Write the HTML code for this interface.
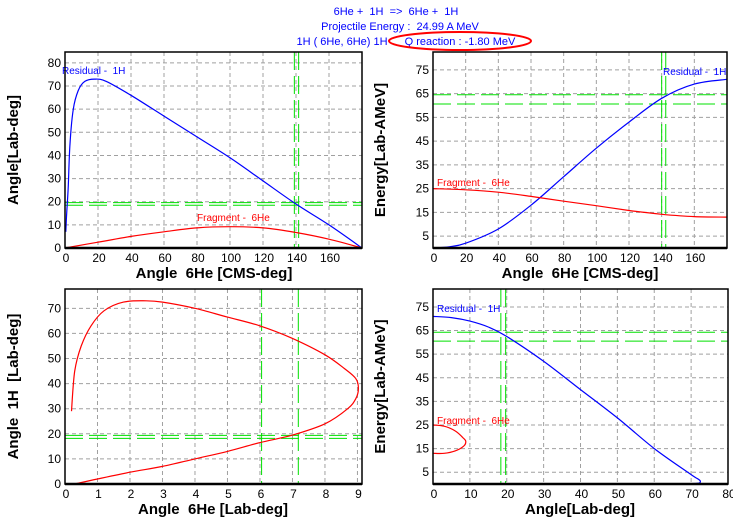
<!DOCTYPE html>
<html><head><meta charset="utf-8"><style>
body{margin:0;background:#fff;width:733px;height:520px;overflow:hidden}
svg{position:absolute;left:0;top:0}
text{font-family:"Liberation Sans",sans-serif;white-space:pre}
</style></head><body>
<svg id="s" width="733" height="520">
<g fill="#0000ff" font-size="11" text-anchor="middle">
<text x="396" y="15">6He +  1H  =&gt;  6He +  1H</text>
<text x="400" y="30">Projectile Energy :  24.99 A MeV</text>
<text x="342" y="45">1H ( 6He, 6He) 1H</text>
<text x="460" y="45">Q reaction : -1.80 MeV</text>
<ellipse cx="460" cy="41" rx="71" ry="9" fill="none" stroke="#ff0000" stroke-width="2"/>
</g>
</svg>
<script>
// Panel 1: lab angle vs CMS angle
const p1Blue=[[0.5,7],[1,15],[2,27],[3,45],[5,60],[8,68],[12,72],[18,73],[25,72],[40,66],[60,57],[80,48],[100,39],[120,29],[140,19],[160,10],[180,0]];
const p1Red=[[0,0],[20,2.5],[40,5],[60,7],[80,8.7],[100,9.2],[120,8.7],[140,6.7],[160,3.8],[180,0]];
// Panel 2: energy vs CMS angle
const p2Blue=[[0,0],[10,0.5],[20,2],[40,8],[60,18],[80,30],[100,42],[120,53],[140,63],[160,69],[180,71]];
const p2Red=[[0,25],[20,24.5],[40,23.5],[60,21.7],[80,19.7],[100,17.8],[120,15.8],[140,14.2],[160,13.2],[180,13]];
// Panel 3: 1H lab angle vs 6He lab angle
const p3Red=[[0.2,29],[0.3,45],[0.5,55],[0.8,63],[1.2,69],[1.8,72.5],[2.5,73],[3,72.5],[4,70],[5,66.5],[6,63],[7,58],[8,51.5],[8.6,46],[8.95,42],[9.03,38],[8.95,34],[8.7,30],[8,24],[7,19.5],[6,16.5],[5,13],[4,10],[3,7],[2,4.7],[1,2],[0.3,0]];
// Panel 4: energy vs lab angle
const p4Blue=[[0,71],[5,70.5],[10,69],[15,66.5],[20,62.5],[30,52],[40,40],[50,28],[60,15],[70,4],[72,2],[72.5,1],[71.5,0.3],[65,0]];
const p4Red=[[0,25],[3,24.5],[6,22.5],[8.2,19.5],[8.9,18],[8.3,16],[6,14],[3,13],[0,13]];
// Ticks
const ticksCMS=[0,20,40,60,80,100,120,140,160];
const ticksAng80=[0,10,20,30,40,50,60,70,80];
const ticksAng70=[0,10,20,30,40,50,60,70];
const ticksE=[5,15,25,35,45,55,65,75];
const ticksLab6=[0,1,2,3,4,5,6,7,8,9];
const ticksLab80=[0,10,20,30,40,50,60,70,80];
// Guide lines
const g1V=[139,141.6], g1H=[19.6,18.5];
const g2V=[140,142.5], g2H=[64.5,60.6];
const g3V=[6.05,7.18], g3H=[19.4,18.2];
const g4V=[18.4,19.7], g4H=[64.3,60.5];

const NS="http://www.w3.org/2000/svg";
const svg=document.getElementById('s');
function mk(t,a,p){const e=document.createElementNS(NS,t);for(const k in a)e.setAttribute(k,a[k]);(p||svg).appendChild(e);return e;}
function smooth(pts){
  let d='M'+pts[0][0].toFixed(1)+','+pts[0][1].toFixed(1);
  for(let i=0;i<pts.length-1;i++){
    const p0=pts[i-1]||pts[i],p1=pts[i],p2=pts[i+1],p3=pts[i+2]||p2;
    const c1=[p1[0]+(p2[0]-p0[0])/6,p1[1]+(p2[1]-p0[1])/6];
    const c2=[p2[0]-(p3[0]-p1[0])/6,p2[1]-(p3[1]-p1[1])/6];
    d+=` C${c1[0].toFixed(1)},${c1[1].toFixed(1)} ${c2[0].toFixed(1)},${c2[1].toFixed(1)} ${p2[0].toFixed(1)},${p2[1].toFixed(1)}`;
  }
  return d;
}

function panel(name,box,xr,yr,xt,yt,xtitle,ytitle,series,gv,gh,labels,xtitleX,ytitleX){
  const g=mk('g',{});
  
  
  const [L,T,R,B]=box;
  const sx=v=>L+(v-xr[0])/(xr[1]-xr[0])*(R-L);
  const sy=v=>B-(v-yr[0])/(yr[1]-yr[0])*(B-T);
  xt.forEach(v=>{const x=sx(v);
    if(v>xr[0]){const l=mk('line',{x1:x,x2:x,y1:T,y2:B,stroke:'#a0a0a0','stroke-dasharray':'4,3'},g);
    }
    const t=mk('text',{x:x+1,y:B+14,'font-size':'12','text-anchor':'middle'},g);t.textContent=v;
    });
  yt.forEach(v=>{const y=sy(v);
    if(v>yr[0]){const l=mk('line',{x1:L,x2:R,y1:y,y2:y,stroke:'#a0a0a0','stroke-dasharray':'4,3'},g);
    }
    const t=mk('text',{x:L-4,y:y+4,'font-size':'12','text-anchor':'end'},g);t.textContent=v;
    });
  gv.forEach(v=>{const l=mk('line',{x1:sx(v),x2:sx(v),y1:T,y2:B,stroke:'#00e000','stroke-dasharray':'18,6'},g);
    });
  gh.forEach(v=>{const l=mk('line',{x1:L,x2:R,y1:sy(v),y2:sy(v),stroke:'#00e000','stroke-dasharray':'18,6'},g);
    });
  series.forEach(s=>{const p=mk('path',{d:smooth(s.d.map(q=>[sx(q[0]),sy(q[1])])),fill:'none',stroke:s.c,'stroke-width':'1.2'},g);
    });
  labels.forEach(l=>{const t=mk('text',{x:l[0],y:l[1],fill:l[2],'font-size':'10'},g);t.textContent=l[3];
    });
  const r=mk('rect',{x:L,y:T,width:R-L,height:B-T,fill:'none',stroke:'#000','stroke-width':'1.5'},g);
  
  const bl=mk('line',{x1:L,x2:R,y1:B,y2:B,stroke:'#000','stroke-width':'2.5'},g);
  
  const xtl=mk('text',{x:xtitleX,y:B+30,'font-size':'15','font-weight':'bold','text-anchor':'middle'},g);xtl.textContent=xtitle;
  
  const cy=(T+B)/2;
  const ytl=mk('text',{x:ytitleX,y:cy,'font-size':'15','font-weight':'bold','text-anchor':'middle',transform:`rotate(-90 ${ytitleX} ${cy})`},g);ytl.textContent=ytitle;
  
}
panel('panel-angle-vs-cms',[65,52,362,248],[0,180],[0,84.7],ticksCMS,ticksAng80,'Angle  6He [CMS-deg]','Angle[Lab-deg]',
 [{d:p1Blue,c:'#0000ff',n:'residual-1h-line'},{d:p1Red,c:'#ff0000',n:'fragment-6he-line'}],g1V,g1H,
 [[62,74,'#0000ff','Residual -  1H'],[197,221,'#ff0000','Fragment -  6He']],214,18);
panel('panel-energy-vs-cms',[433,52,727,248],[0,180],[0,82.5],ticksCMS,ticksE,'Angle  6He [CMS-deg]','Energy[Lab-AMeV]',
 [{d:p2Blue,c:'#0000ff',n:'residual-1h-line'},{d:p2Red,c:'#ff0000',n:'fragment-6he-line'}],g2V,g2H,
 [[663,75,'#0000ff','Residual -  1H'],[437,186,'#ff0000','Fragment -  6He']],580,385);
panel('panel-angle-vs-lab',[65,289,362,484],[0,9.14],[0,77.7],ticksLab6,ticksAng70,'Angle  6He [Lab-deg]','Angle  1H  [Lab-deg]',
 [{d:p3Red,c:'#ff0000',n:'kinematic-locus-line'}],g3V,g3H,[],213,18);
panel('panel-energy-vs-lab',[433,289,728,484],[0,80],[0,82.6],ticksLab80,ticksE,'Angle[Lab-deg]','Energy[Lab-AMeV]',
 [{d:p4Blue,c:'#0000ff',n:'residual-1h-line'},{d:p4Red,c:'#ff0000',n:'fragment-6he-line'}],g4V,g4H,
 [[437,312,'#0000ff','Residual -  1H'],[437,424,'#ff0000','Fragment -  6He']],580,385);
</script>
</body></html>
